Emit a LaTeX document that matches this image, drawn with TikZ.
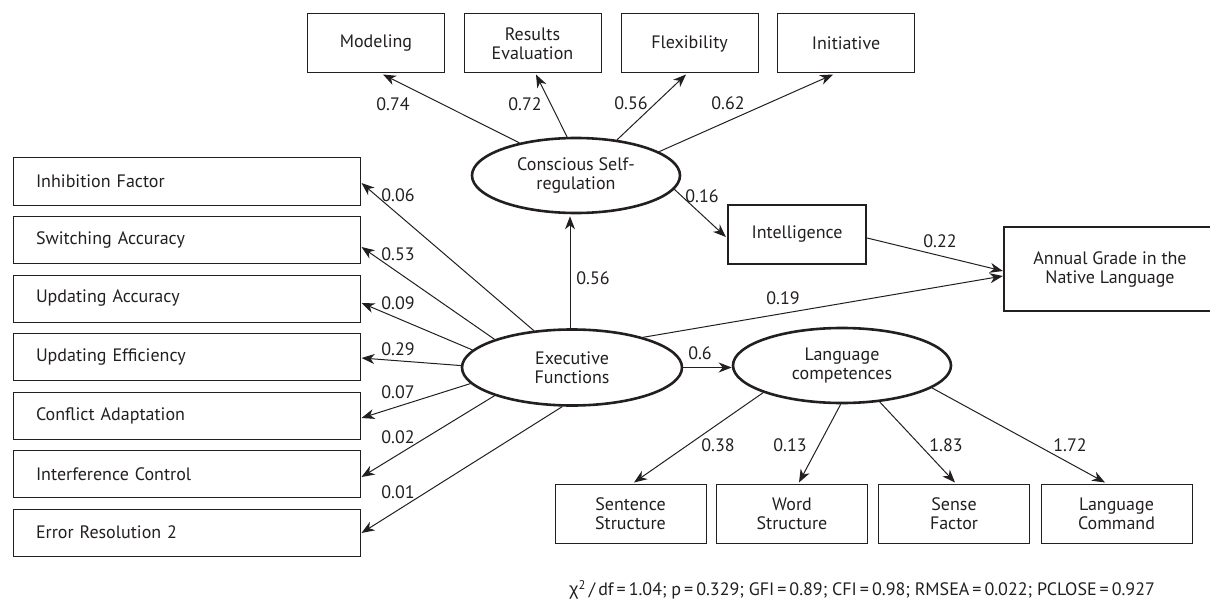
\documentclass[tikz,border=0pt]{standalone}
\usepackage{fontspec}
\setmainfont{PT Sans}
\newfontfamily\grkfont{Liberation Sans}
\usetikzlibrary{shapes.geometric,arrows.meta,calc}
\definecolor{ink}{RGB}{35,31,32}
\tikzset{
  txt/.style={font=\fontsize{18}{19}\selectfont, text=ink},
  box/.style={txt, draw=ink, line width=1pt, inner sep=0pt, align=center},
  topbox/.style={box, minimum width=137pt, minimum height=59pt},
  botbox/.style={box, minimum width=151pt, minimum height=59pt},
  leftbox/.style={txt, draw=ink, line width=1pt, inner xsep=23pt, inner ysep=0pt,
     text width=301pt, align=left, minimum height=47pt},
  thickbox/.style={box, line width=2.2pt},
  latent/.style={txt, ellipse, draw=ink, line width=2.6pt, inner sep=0pt, align=center},
  lab/.style={txt, inner sep=0pt},
  conn/.style={draw=ink, line width=1pt, -{Stealth[length=13pt,width=10pt,inset=4pt]}},
  plain/.style={draw=ink, line width=1pt},
}
\begin{document}
\begin{tikzpicture}[x=1pt,y=-1pt]
\useasboundingbox (0,0) rectangle (1210,607);
% top indicators
\node[topbox] (mod) at (376,43.5) {Modeling};
\node[topbox] (res) at (532.5,43.5) {Results\\Evaluation};
\node[topbox] (flex) at (689.5,43.5) {Flexibility};
\node[topbox] (ini) at (846,43.5) {Initiative};
% latent variables
\node[latent, minimum width=208pt, minimum height=75pt] (cons) at (576,175.5) {Conscious Self-\\regulation};
\node[latent, minimum width=220pt, minimum height=76pt] (exec) at (572,367.5) {Executive\\Functions};
\node[latent, minimum width=218pt, minimum height=75pt] (lang) at (842,365.5) {Language\\competences};
% left indicators
\node[leftbox] (b1) at (186.5,181.5) {Inhibition Factor};
\node[leftbox] (b2) at (186.5,240) {Switching Accuracy};
\node[leftbox] (b3) at (186.5,298.5) {Updating Accuracy};
\node[leftbox] (b4) at (186.5,357) {Updating Efficiency};
\node[leftbox] (b5) at (186.5,415.5) {Conflict Adaptation};
\node[leftbox] (b6) at (186.5,474) {Interference Control};
\node[leftbox] (b7) at (186.5,532.5) {Error Resolution 2};
% outcome boxes
\node[thickbox, minimum width=138pt, minimum height=59pt] (int) at (797,234.5) {Intelligence};
\node[thickbox, minimum width=212pt, minimum height=84pt] (ann) at (1110,269) {Annual Grade in the\\Native Language};
% bottom indicators
\node[botbox] (sen) at (630.5,513.5) {Sentence\\Structure};
\node[botbox] (wor) at (792,513.5) {Word\\Structure};
\node[botbox] (sen2) at (954,513.5) {Sense\\Factor};
\node[botbox] (com) at (1116.5,513.5) {Language\\Command};
% conscious -> indicators
\draw[conn] (cons.150.7) -- ($(mod.south)+(7,1)$);
\draw[conn] (cons.103.5) -- ($(res.south)+(3.5,1)$);
\draw[conn] (cons.41.4) -- ($(flex.south)+(-3.5,1)$);
\draw[conn] (cons.16.8) -- ($(ini.south)+(-13,1)$);
\draw[conn] (cons.-8.4) -- ($(int.west)+(-1,2.5)$);
% executive -> left indicators
\draw[conn] (exec.136) -- ($(b1.east)+(1,1.5)$);
\draw[conn] (exec.160) -- ($(b2.east)+(1,7)$);
\draw[conn] (exec.170) -- ($(b3.east)+(1,4.5)$);
\draw[conn] (exec.179.5) -- ($(b4.east)+(1,1)$);
\draw[conn] (exec.189.5) -- ($(b5.east)+(1,2.5)$);
\draw[conn] (exec.200) -- ($(b6.east)+(1,3)$);
\draw[conn] (exec.256) -- ($(b7.east)+(1,0.5)$);
% executive -> conscious, language, annual
\draw[conn] ($(exec.north)+(-2,0)$) -- ($(exec.north |- cons.south)+(-2,2)$);
\draw[conn] (exec.east) -- (exec.east -| lang.west);
\draw[conn] (exec.23.8) -- ($(ann.west)+(0,7)$);
\draw[conn] ($(int.east)+(0,3.5)$) -- ($(ann.west)+(0,2)$);
% language -> indicators
\draw[conn] (lang.199) -- ($(sen.north)+(3.5,-1)$);
\draw[conn] (lang.268.5) -- ($(wor.north)+(7,-1)$);
\draw[conn] (lang.316) -- ($(sen2.north)+(1,-1)$);
\draw[conn] (lang.346) -- ($(com.north)+(-11.5,-1)$);
% labels
\node[lab] (l1) at (393,104) {0.74};
\node[lab] (l2) at (525,104) {0.72};
\node[lab] (l3) at (631,103) {0.56};
\node[lab] (l4) at (728,103) {0.62};
\node[lab] (l5) at (702,196) {0.16};
\node[lab] (l6) at (940,241) {0.22};
\node[lab] (l7) at (783,298) {0.19};
\node[lab] (l8) at (593,278) {0.56};
\node[lab] (l9) at (700,353) {0.6};
\node[lab] (e1) at (398,195) {0.06};
\node[lab] (e2) at (398,254) {0.53};
\node[lab] (e3) at (398,303) {0.09};
\node[lab] (e4) at (398,349) {0.29};
\node[lab] (e5) at (398,392) {0.07};
\node[lab] (e6) at (398,437) {0.02};
\node[lab] (e7) at (398,492) {0.01};
\node[lab] (g1) at (718,445) {0.38};
\node[lab] (g2) at (790,445) {0.13};
\node[lab] (g3) at (946,445) {1.83};
\node[lab] (g4) at (1070,445) {1.72};
\node[lab] (fit) at (862,590) {{\grkfont χ}\textsuperscript{2}\,/\,df\,=\,1.04; p\,=\,0.329; GFI\,=\,0.89; CFI\,=\,0.98; RMSEA\,=\,0.022; PCLOSE\,=\,0.927};
\end{tikzpicture}
\end{document}
